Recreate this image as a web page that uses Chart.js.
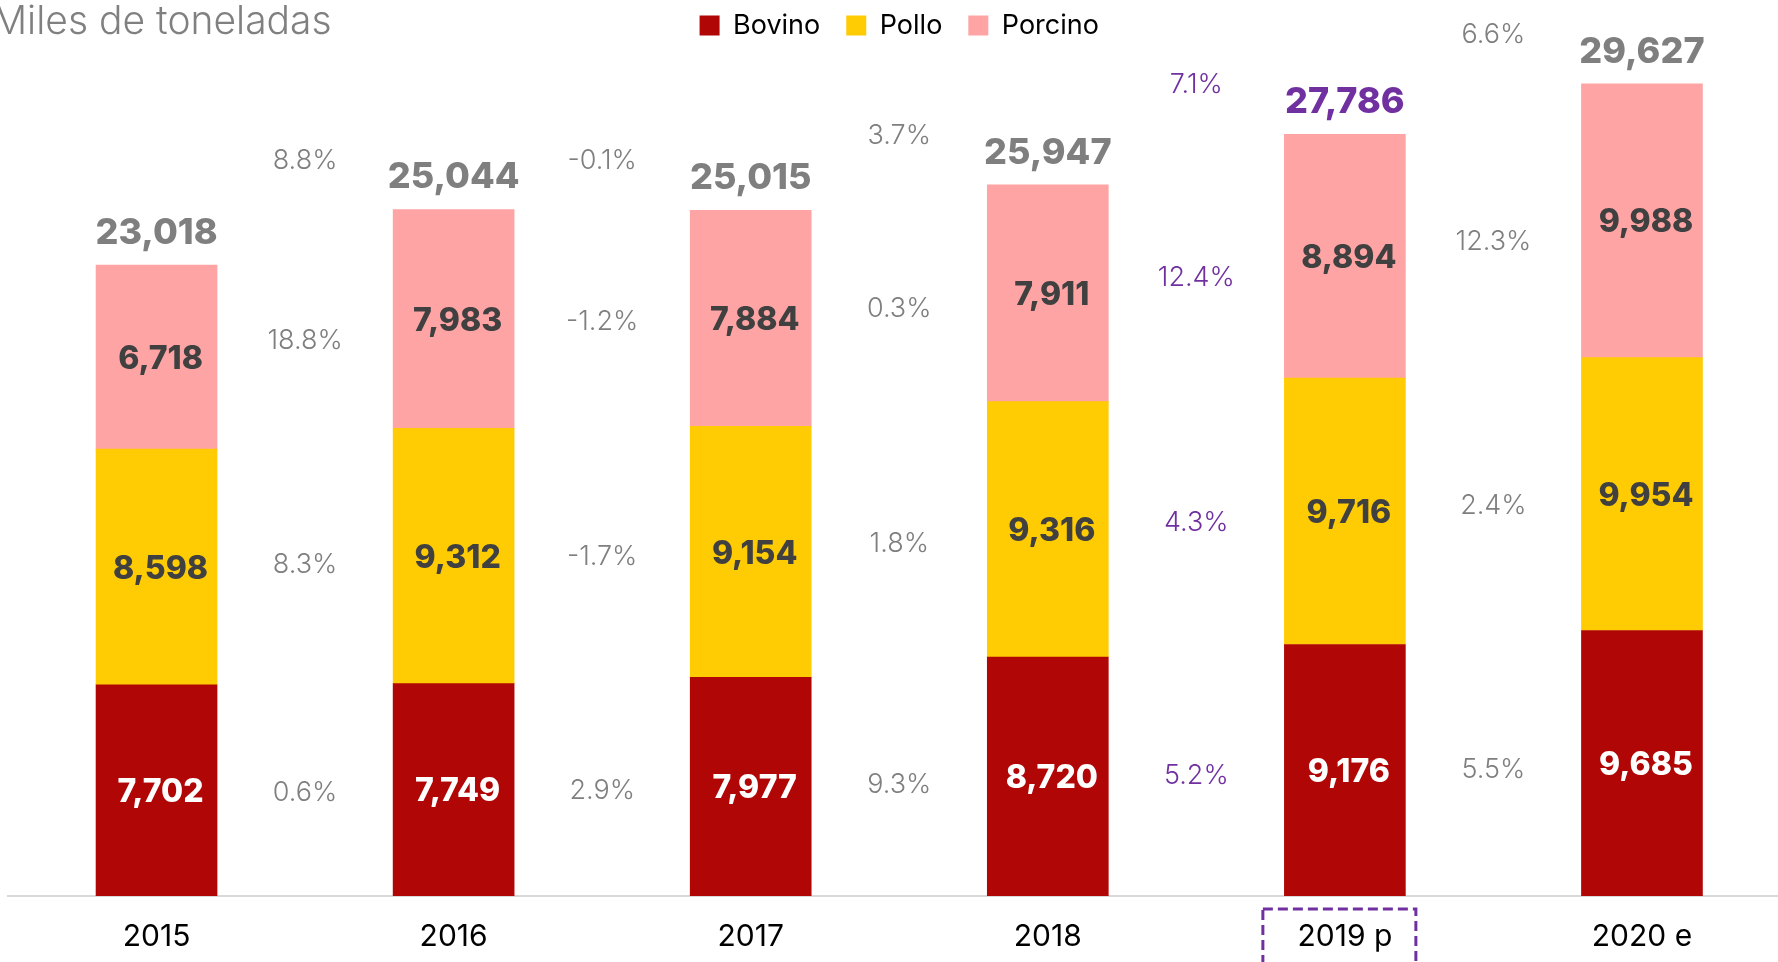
<!DOCTYPE html>
<html>
<head>
<meta charset="utf-8">
<script src="https://cdn.jsdelivr.net/npm/chart.js@4"></script>
<style>
  html, body { margin: 0; padding: 0; background: #fff; overflow: hidden; }
  #wrap { position: relative; width: 1778px; height: 962px; overflow: hidden; }
  #chart { position: absolute; left: 0; top: -14px; }
</style>
</head>
<body>
<div id="wrap"><canvas id="chart" width="1792" height="976"></canvas></div>
<script>
// datos (miles de toneladas)
const years = ['2015', '2016', '2017', '2018', '2019 p', '2020 e'];
const bovino = [7702, 7749, 7977, 8720, 9176, 9685];
const pollo = [8598, 9312, 9154, 9316, 9716, 9954];
const porcino = [6718, 7983, 7884, 7911, 8894, 9988];
const totals = [23018, 25044, 25015, 25947, 27786, 29627];

// variación anual (de 2016 en adelante)
const growthTotal = ['8.8%', '-0.1%', '3.7%', '7.1%', '6.6%'];
const growthPorcino = ['18.8%', '-1.2%', '0.3%', '12.4%', '12.3%'];
const growthPollo = ['8.3%', '-1.7%', '1.8%', '4.3%', '2.4%'];
const growthBovino = ['0.6%', '2.9%', '9.3%', '5.2%', '5.5%'];

const FONT = 'Inter, "Noto Sans", sans-serif';
const PURPLE = '#7030A0';
const GRAY = '#7F7F7F';
const HIGHLIGHT = 4; // 2019 p

const fmt = (v) => v.toLocaleString('en-US');

const annotations = {
  id: 'annotations',
  afterDatasetsDraw(chart) {
    const { ctx, scales: { x, y } } = chart;
    ctx.save();
    ctx.textAlign = 'center';
    ctx.textBaseline = 'middle';

    // valores dentro de cada segmento
    chart.data.datasets.forEach((ds, d) => {
      const meta = chart.getDatasetMeta(d);
      meta.data.forEach((bar, i) => {
        ctx.font = `800 32px ${FONT}`;
        ctx.fillStyle = d === 0 ? '#ffffff' : '#404040';
        ctx.fillText(fmt(ds.data[i]), bar.x + 4, (bar.y + bar.base) / 2 + 2);
      });
    });

    // totales
    totals.forEach((t, i) => {
      ctx.font = `800 36px ${FONT}`;
      ctx.fillStyle = i === HIGHLIGHT ? PURPLE : GRAY;
      ctx.fillText(fmt(t), x.getPixelForValue(i), y.getPixelForValue(t) - 32);
    });

    // variaciones entre barras
    const segMid = (d, i) => {
      const b = chart.getDatasetMeta(d).data[i];
      return (b.y + b.base) / 2;
    };
    const rows = [growthBovino, growthPollo, growthPorcino];
    for (let i = 1; i < years.length; i++) {
      const cx = (x.getPixelForValue(i - 1) + x.getPixelForValue(i)) / 2;
      ctx.font = `300 27px ${FONT}`;
      ctx.fillStyle = i === HIGHLIGHT ? PURPLE : GRAY;
      rows.forEach((arr, d) => {
        ctx.fillText(arr[i - 1], cx, (segMid(d, i - 1) + segMid(d, i)) / 2 + 3);
      });
      const top = Math.min(y.getPixelForValue(totals[i - 1]), y.getPixelForValue(totals[i]));
      ctx.fillText(growthTotal[i - 1], cx, top - 49);
    }
    ctx.restore();
  },
  afterDraw(chart) {
    const { ctx, scales: { x } } = chart;
    ctx.save();
    // unidad
    ctx.font = `300 39px ${FONT}`;
    ctx.fillStyle = '#808080';
    ctx.textAlign = 'left';
    ctx.textBaseline = 'alphabetic';
    ctx.fillText('Miles de toneladas', -8, 48);

    // recuadro punteado en 2019 p
    const cx = x.getPixelForValue(HIGHLIGHT);
    ctx.strokeStyle = PURPLE;
    ctx.lineWidth = 3;
    ctx.setLineDash([10, 5]);
    ctx.strokeRect(cx - 82, 923, 153, 70);
    ctx.restore();
  }
};

new Chart(document.getElementById('chart'), {
  type: 'bar',
  data: {
    labels: years,
    datasets: [
      { label: 'Bovino', data: bovino, backgroundColor: '#B00606' },
      { label: 'Pollo', data: pollo, backgroundColor: '#FFCC03' },
      { label: 'Porcino', data: porcino, backgroundColor: '#FFA4A4' }
    ]
  },
  options: {
    responsive: false,
    animation: false,
    devicePixelRatio: 1,
    layout: { padding: { left: 8, right: 1.5, top: 0, bottom: 0 } },
    datasets: { bar: { barThickness: 121, borderWidth: 0 } },
    plugins: {
      legend: {
        position: 'top',
        align: 'center',
        labels: {
          boxWidth: 20,
          boxHeight: 20,
          padding: 26,
          color: '#000',
          font: { family: FONT, size: 27 }
        }
      },
      tooltip: { enabled: false }
    },
    scales: {
      x: {
        stacked: true,
        grid: { display: false, drawTicks: false },
        border: { display: true, color: '#D9D9D9', width: 2 },
        ticks: { color: '#000', padding: 23, font: { family: FONT, size: 30 } },
        afterFit: (axis) => { axis.height = 66; }
      },
      y: {
        stacked: true,
        display: false,
        min: 0,
        max: 30900
      }
    }
  },
  plugins: [annotations]
});
</script>
</body>
</html>
